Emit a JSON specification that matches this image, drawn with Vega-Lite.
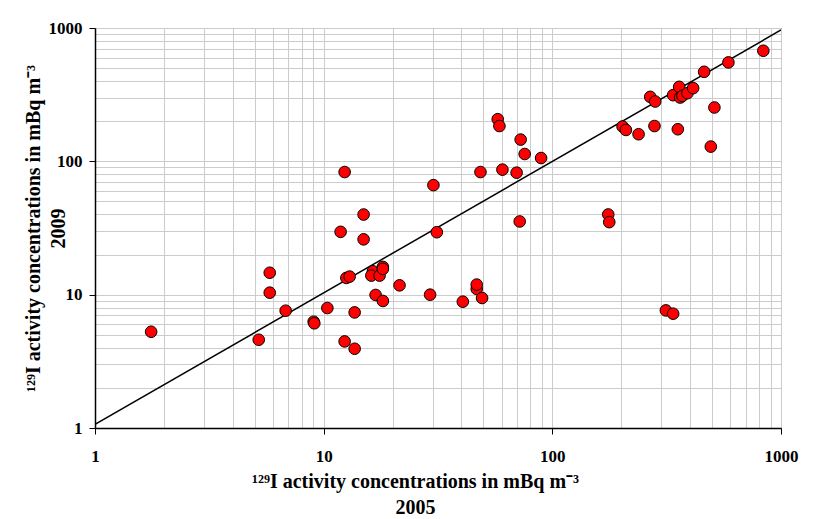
{
  "$schema": "https://vega.github.io/schema/vega-lite/v6.json",
  "width": 686,
  "height": 400,
  "autosize": "none",
  "padding": {"left": 95, "top": 28, "right": 51, "bottom": 91},
  "background": "white",
  "config": {
    "view": {"stroke": "black", "strokeWidth": 1},
    "axis": {
      "labelFont": "Liberation Serif", "labelFontWeight": "bold", "labelFontSize": 17, "labelColor": "black",
      "titleFont": "Liberation Serif", "titleFontWeight": "bold", "titleFontSize": 20, "titleColor": "black",
      "gridColor": "#cccccc", "gridWidth": 1, "domainColor": "black", "domainWidth": 1.5,
      "tickColor": "black", "tickSize": 6, "tickWidth": 1
    }
  },
  "layer": [
    {
      "data": {"values": [{"x": 1, "y": 1.066}, {"x": 1000, "y": 966}]},
      "mark": {"type": "line", "color": "black", "strokeWidth": 1.5, "clip": true},
      "encoding": {
        "x": {"field": "x", "type": "quantitative", "scale": {"type": "log", "domain": [1, 1000], "nice": false},
          "axis": {
            "values": [1,2,3,4,5,6,7,8,9,10,20,30,40,50,60,70,80,90,100,200,300,400,500,600,700,800,900,1000],
            "format": "d",
            "labelExpr": "indexof([1,10,100,1000], datum.value) >= 0 ? datum.label : ''",
            "tickOpacity": {"condition": {"test": "indexof([1,10,100,1000], datum.value) >= 0", "value": 1}, "value": 0},
            "labelPadding": 14, "labelFlush": false, "labelOverlap": false,
            "title": ["¹²⁹I activity concentrations in mBq m⁻³", "2005"],
            "titleX": 320, "titleY": 59, "titleBaseline": "alphabetic", "titleLineHeight": 26, "titleAlign": "center"
          }},
        "y": {"field": "y", "type": "quantitative", "scale": {"type": "log", "domain": [1, 1000], "nice": false},
          "axis": {
            "values": [1,2,3,4,5,6,7,8,9,10,20,30,40,50,60,70,80,90,100,200,300,400,500,600,700,800,900,1000],
            "format": "d",
            "labelExpr": "indexof([1,10,100,1000], datum.value) >= 0 ? datum.label : ''",
            "tickOpacity": {"condition": {"test": "indexof([1,10,100,1000], datum.value) >= 0", "value": 1}, "value": 0},
            "labelPadding": 7, "labelFlush": false, "labelOverlap": false,
            "title": ["¹²⁹I activity concentrations in mBq m⁻³", "2009"],
            "titleX": -52, "titleY": 200, "titleAngle": -90, "titleBaseline": "bottom", "titleLineHeight": 25, "titleAlign": "center"
          }}
      }
    },
    {
      "data": {"values": [
        {"x": 1.76, "y": 5.27}, {"x": 5.2, "y": 4.59}, {"x": 5.81, "y": 14.6}, {"x": 5.81, "y": 10.35},
        {"x": 6.82, "y": 7.58}, {"x": 9.04, "y": 6.27}, {"x": 9.1, "y": 6.1}, {"x": 10.38, "y": 7.94},
        {"x": 12.35, "y": 83.1}, {"x": 11.86, "y": 29.6}, {"x": 14.95, "y": 39.9}, {"x": 14.95, "y": 26.0},
        {"x": 12.57, "y": 13.35}, {"x": 12.99, "y": 13.66}, {"x": 12.35, "y": 4.46}, {"x": 13.66, "y": 3.93},
        {"x": 13.66, "y": 7.36}, {"x": 16.42, "y": 14.97}, {"x": 16.16, "y": 13.9}, {"x": 17.56, "y": 13.9},
        {"x": 18.15, "y": 16.15}, {"x": 18.15, "y": 15.6}, {"x": 16.87, "y": 9.95}, {"x": 18.15, "y": 8.97},
        {"x": 21.47, "y": 11.75}, {"x": 29.2, "y": 10.0}, {"x": 30.2, "y": 66.3}, {"x": 31.25, "y": 29.4},
        {"x": 40.6, "y": 8.86}, {"x": 46.7, "y": 11.04}, {"x": 46.7, "y": 11.9}, {"x": 49.3, "y": 9.44},
        {"x": 48.5, "y": 83.1}, {"x": 57.7, "y": 207}, {"x": 58.7, "y": 184}, {"x": 60.5, "y": 86.6},
        {"x": 69.8, "y": 82.2}, {"x": 72.7, "y": 145.6}, {"x": 75.7, "y": 113.5}, {"x": 72.0, "y": 35.4},
        {"x": 89.3, "y": 105.9}, {"x": 175.6, "y": 39.95}, {"x": 177.4, "y": 35.0}, {"x": 202.8, "y": 182.4},
        {"x": 209.8, "y": 171.9}, {"x": 238.3, "y": 159.7}, {"x": 268, "y": 304.5}, {"x": 281.8, "y": 281},
        {"x": 279.7, "y": 184}, {"x": 313.7, "y": 7.62}, {"x": 337.5, "y": 7.2}, {"x": 337.5, "y": 313.5},
        {"x": 358.6, "y": 362}, {"x": 362.2, "y": 301}, {"x": 370.8, "y": 309.8}, {"x": 389.9, "y": 324.6},
        {"x": 412.8, "y": 354}, {"x": 353.8, "y": 174}, {"x": 461.2, "y": 469.3}, {"x": 511.4, "y": 253.4},
        {"x": 493.2, "y": 129}, {"x": 588.9, "y": 552}, {"x": 837, "y": 675}
      ]},
      "mark": {"type": "point", "filled": true, "fill": "#ff0000", "stroke": "black", "strokeWidth": 1, "size": 135, "opacity": 1, "shape": "circle"},
      "encoding": {
        "x": {"field": "x", "type": "quantitative"},
        "y": {"field": "y", "type": "quantitative"}
      }
    }
  ]
}
